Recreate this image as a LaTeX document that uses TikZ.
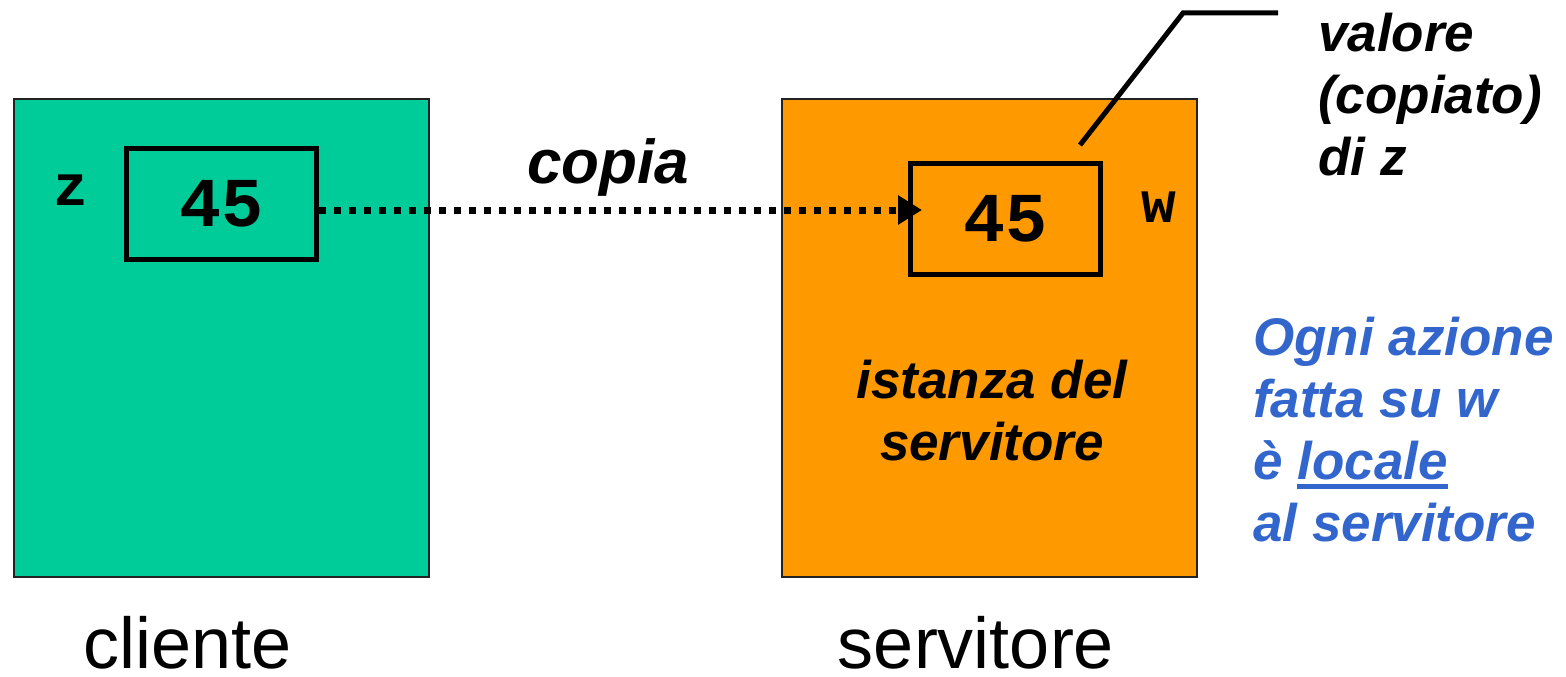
\documentclass[tikz,border=0pt]{standalone}
\usepackage{fontspec}
\setmainfont{Liberation Sans}
\setmonofont{Liberation Mono}
\usetikzlibrary{arrows.meta}
\definecolor{cgreen}{HTML}{00CC99}
\definecolor{corange}{HTML}{FF9900}
\definecolor{cblue}{HTML}{3366CC}
\definecolor{cborder}{HTML}{222222}
\newcommand\myul[1]{\setbox0\hbox{#1}\rlap{\rule[-10pt]{\wd0}{5pt}}\box0}
\tikzset{
  bigbox/.style={draw=cborder, line width=2pt, minimum width=415pt, minimum height=478pt, inner sep=0pt},
  varbox/.style={draw=black, line width=5pt, minimum width=190pt, minimum height=111pt, inner sep=0pt,
     font=\fontsize{70}{70}\selectfont\ttfamily\bfseries},
  varname/.style={inner sep=0pt, font=\fontsize{58}{58}\selectfont\ttfamily\bfseries},
  bitext/.style={inner sep=0pt, font=\fontsize{53}{62}\selectfont\bfseries\itshape},
  plain/.style={inner sep=0pt, font=\fontsize{72}{72}\selectfont},
}
\begin{document}
\begin{tikzpicture}[x=1pt,y=-1pt]
\useasboundingbox (0,0) rectangle (1566,677);
\node[bigbox, fill=cgreen] (cli) at (221.5,338) {};
\node[bigbox, fill=corange] (srv) at (989.5,338) {};
\node[varbox] (zbox) at (221.5,204) {45};
\node[varbox] (wbox) at (1005.5,219) {45};
\node[varname] (zname) at (71,190) {z};
\node[varname] (wname) at (1159,207) {w};
\coordinate (astart) at ([yshift=-6pt]zbox.east);
\coordinate (tip) at ([xshift=14pt]wbox.west |- astart);
\draw[line width=7pt, dash pattern=on 7pt off 8pt, -{Triangle[length=24pt,width=28pt]}] (astart) -- (tip);
\node[bitext, font=\fontsize{62}{62}\selectfont\bfseries\itshape, anchor=base] (copia) at (608,183) {copia};
\coordinate (cstart) at (1080,145);
\coordinate (cbend) at (1183,13);
\coordinate (cend) at (1278,13);
\draw[line width=5pt] (cstart) -- (cbend) -- (cend);
\node[bitext, align=left, anchor=base west] (valore) at (1318,175) {valore\\(copiato)\\di z};
\node[bitext, align=center, anchor=base] (ist) at (992,460) {istanza del\\servitore};
\node[bitext, text=cblue, align=left, anchor=base west] (note) at (1253,541) {Ogni azione\\fatta su w\\è \myul{locale}\\al servitore};
\node[plain, anchor=base] (clil) at (188,668) {cliente};
\node[plain, anchor=base] (srvl) at (976,668) {servitore};
\end{tikzpicture}
\end{document}
